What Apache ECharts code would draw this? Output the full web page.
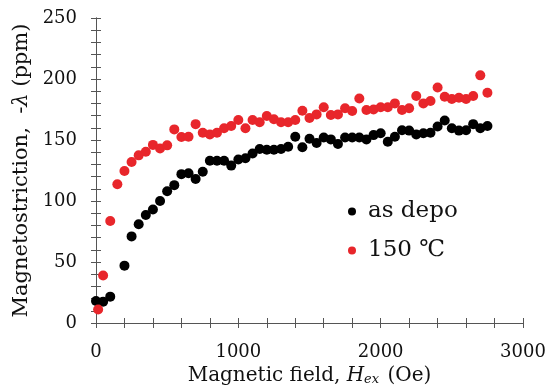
<!DOCTYPE html>
<html>
<head>
<meta charset="utf-8">
<script src="https://cdn.jsdelivr.net/npm/echarts@6/dist/echarts.min.js"></script>
<style>
  html, body { margin: 0; padding: 0; background: #fff; }
  #chart { width: 547px; height: 389px; }
</style>
</head>
<body>
<div id="chart"></div>
<script>
// field values (Oe) and magnetostriction (ppm)
const depoField = [0, 50, 100, 200, 250, 300, 350, 400, 450, 500, 550, 600, 650, 700, 750, 800, 850, 900, 950, 1000,
  1050, 1100, 1150, 1200, 1250, 1300, 1350, 1400, 1450, 1500, 1550, 1600, 1650, 1700, 1750, 1800, 1850, 1900, 1950, 2000,
  2050, 2100, 2150, 2200, 2250, 2300, 2350, 2400, 2450, 2500, 2550, 2600, 2650, 2700, 2750];
const depoValues = [18, 17.5, 21.6, 47, 71, 81, 88.5, 93, 100, 108, 113, 122, 122.7, 118, 124, 133, 133, 133, 129, 134,
  135, 139, 142.6, 142, 142, 142.6, 144.5, 152.7, 144, 151, 147.5, 152, 150.5, 146.7, 152, 152, 152, 150.5, 154, 155.5,
  148.6, 152.7, 158, 157.7, 154.6, 155.5, 156, 161, 166, 159.6, 157.7, 158, 163, 159.6, 161.5];

const annealField = [15, 50, 100, 150, 200, 250, 300, 350, 400, 450, 500, 550, 600, 650, 700, 750, 800, 850, 900, 950, 1000,
  1050, 1100, 1150, 1200, 1250, 1300, 1350, 1400, 1450, 1500, 1550, 1600, 1650, 1700, 1750, 1800, 1850, 1900, 1950, 2000,
  2050, 2100, 2150, 2200, 2250, 2300, 2350, 2400, 2450, 2500, 2550, 2600, 2650, 2700, 2750];
const annealValues = [11, 39, 83.6, 113.7, 124.6, 132, 137.4, 140.4, 146, 143, 145.6, 158.7, 152.5, 152.7, 163, 156, 154.6, 156, 159.6, 161.5, 166.4,
  159.6, 166.4, 164.5, 169.7, 167, 164.5, 164.5, 166.4, 174, 168, 171, 176.8, 170.5, 171, 176, 173.8, 184, 174.6, 175, 176.8,
  176.8, 180, 174.6, 176, 186, 180, 182, 193, 185.5, 183.6, 184.7, 183.6, 186, 203, 188.8];

const seriesNames = ['as depo', '150 ℃'];
const xTickLabels = [0, 1000, 2000, 3000];
const yTickLabels = [0, 50, 100, 150, 200, 250];

const font = '"DejaVu Serif", "Liberation Serif", serif';
const axisColor = '#555';

const pairs = (xs, ys) => xs.map((x, i) => [x, ys[i]]);

const frameAxis = (extra) => Object.assign({
  type: 'value',
  axisLine: { show: true, lineStyle: { color: axisColor, width: 1 } },
  axisTick: { show: true, inside: true, length: 5, lineStyle: { color: axisColor } },
  splitLine: { show: false },
}, extra);

const myChart = echarts.init(document.getElementById('chart'));
myChart.setOption({
  animation: false,
  grid: { left: 96, right: 24, top: 18, bottom: 66, outerBoundsMode: 'none', containLabel: false },
  legend: {
    data: seriesNames,
    orient: 'vertical',
    left: 343,
    top: 195,
    icon: 'circle',
    itemWidth: 22,
    itemHeight: 8,
    itemGap: 16,
    textStyle: { fontFamily: font, fontSize: 23, color: '#111' },
  },
  xAxis: [
    frameAxis({
      min: 0, max: 3000, interval: 200,
      name: '{n|Magnetic field, }{i|H}{s|ex}{n| (Oe)}',
      nameLocation: 'middle',
      nameGap: 41,
      nameTextStyle: {
        color: '#111',
        rich: {
          n: { fontFamily: font, fontSize: 20, color: '#111' },
          i: { fontFamily: font, fontSize: 20, fontStyle: 'italic', color: '#111' },
          s: { fontFamily: font, fontSize: 13, fontStyle: 'italic', color: '#111', padding: [8, 2, 0, 0] },
        },
      },
      axisLabel: {
        fontFamily: font, fontSize: 18, color: '#111', margin: 20,
        formatter: (v) => (xTickLabels.includes(v) ? String(v) : ''),
      },
    }),
    frameAxis({ position: 'top', min: 0, max: 3000, interval: 200, axisLabel: { show: false } }),
  ],
  yAxis: [
    frameAxis({
      min: 0, max: 250, interval: 10,
      name: '{n|Magnetostriction,  -}{i|λ}{n| (ppm)}',
      nameLocation: 'middle',
      nameGap: 63,
      nameTextStyle: {
        color: '#111',
        rich: {
          n: { fontFamily: font, fontSize: 21, color: '#111' },
          i: { fontFamily: font, fontSize: 21, fontStyle: 'italic', color: '#111' },
        },
      },
      axisLabel: {
        fontFamily: font, fontSize: 18, color: '#111', margin: 19,
        formatter: (v) => (yTickLabels.includes(v) ? String(v) : ''),
      },
    }),
    frameAxis({ position: 'right', min: 0, max: 250, interval: 10, axisLabel: { show: false } }),
  ],
  series: [
    {
      name: seriesNames[0],
      type: 'scatter',
      symbolSize: 10,
      itemStyle: { color: '#000', opacity: 1 },
      data: pairs(depoField, depoValues),
    },
    {
      name: seriesNames[1],
      type: 'scatter',
      symbolSize: 10,
      itemStyle: { color: '#e8262b', opacity: 1 },
      data: pairs(annealField, annealValues),
    },
  ],
});
</script>
</body>
</html>
